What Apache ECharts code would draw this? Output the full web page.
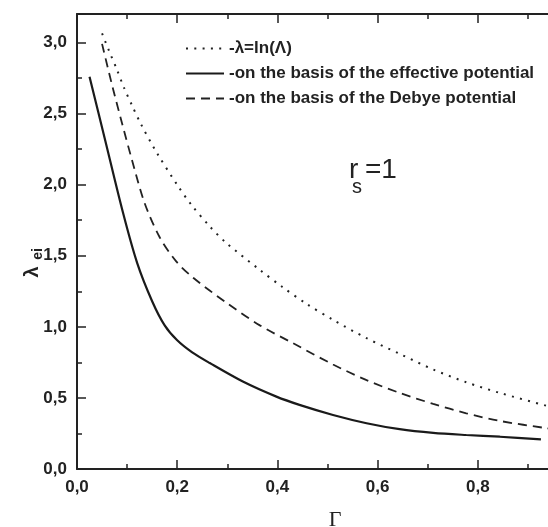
<!DOCTYPE html>
<html>
<head>
<meta charset="utf-8">
<script src="https://cdn.jsdelivr.net/npm/echarts@6/dist/echarts.min.js"></script>
<style>html,body{margin:0;padding:0;background:#fff;}#c{width:548px;height:527px;}</style>
</head>
<body>
<div id="c"></div>
<script>
// ---- data ----
var seriesNames = ['-\u03bb=ln(\u039b)', '-on the basis of the effective potential', '-on the basis of the Debye potential'];

var gammaDotted  = [0.05, 0.064, 0.079, 0.094, 0.11, 0.127, 0.16, 0.202, 0.228, 0.265, 0.298, 0.365, 0.41, 0.458, 0.511, 0.578, 0.644, 0.711, 0.777, 0.844, 0.937, 0.96];
var lambdaDotted = [3.064, 2.94, 2.815, 2.68, 2.556, 2.43, 2.22, 1.988, 1.859, 1.706, 1.59, 1.40, 1.28, 1.162, 1.049, 0.920, 0.81, 0.70, 0.61, 0.535, 0.445, 0.425];

var gammaSolid  = [0.025, 0.055, 0.092, 0.12, 0.15, 0.175, 0.2, 0.23, 0.265, 0.331, 0.398, 0.444, 0.511, 0.578, 0.644, 0.711, 0.777, 0.844, 0.926];
var lambdaSolid = [2.758, 2.33, 1.80, 1.45, 1.18, 1.01, 0.905, 0.82, 0.745, 0.615, 0.509, 0.451, 0.380, 0.322, 0.280, 0.254, 0.239, 0.227, 0.209];

var gammaDashed  = [0.05, 0.07, 0.09, 0.11, 0.135, 0.165, 0.198, 0.232, 0.298, 0.365, 0.431, 0.511, 0.578, 0.644, 0.711, 0.777, 0.844, 0.937, 0.96];
var lambdaDashed = [2.99, 2.70, 2.43, 2.17, 1.87, 1.63, 1.46, 1.345, 1.17, 1.01, 0.885, 0.735, 0.625, 0.535, 0.458, 0.392, 0.338, 0.287, 0.275];

var xMin = 0, xMax = 1.0, xStep = 0.2;
var yMin = 0, yMax = 3.2, yStep = 0.5;

function pairs(xs, ys) { return xs.map(function (x, i) { return [x, ys[i]]; }); }
function fmt(v) { return v.toFixed(1).replace('.', ','); }

var ink = '#222';
var chart = echarts.init(document.getElementById('c'), null, {renderer: 'canvas'});

var axisCommon = {
  axisLine: {show: true, onZero: false, lineStyle: {color: ink, width: 2}},
  axisTick: {show: true, inside: true, length: 9, lineStyle: {color: ink, width: 1.5}},
  minorTick: {show: true, splitNumber: 2, length: 5, lineStyle: {color: ink, width: 1.5}},
  splitLine: {show: false},
  minorSplitLine: {show: false}
};

chart.setOption({
  animation: false,
  backgroundColor: '#fff',
  grid: {left: 77, top: 14, width: 501, height: 455, containLabel: false, outerBoundsMode: 'none'},
  xAxis: [
    Object.assign({}, axisCommon, {
      type: 'value', position: 'bottom', min: xMin, max: xMax, interval: xStep,
      axisLabel: {show: true, margin: 10, color: ink, fontFamily: 'Liberation Sans, Arial, sans-serif', fontWeight: 'bold', fontSize: 17,
        formatter: function (v) { return fmt(v); }}
    }),
    Object.assign({}, axisCommon, {
      type: 'value', position: 'top', min: xMin, max: xMax, interval: xStep,
      axisLabel: {show: false}
    })
  ],
  yAxis: [
    Object.assign({}, axisCommon, {
      type: 'value', position: 'left', min: yMin, max: yMax, interval: yStep,
      axisLabel: {show: true, margin: 10, color: ink, fontFamily: 'Liberation Sans, Arial, sans-serif', fontWeight: 'bold', fontSize: 17,
        formatter: function (v) { return (Math.abs(v / yStep - Math.round(v / yStep)) < 1e-6) ? fmt(v) : ''; }}
    })
  ],
  legend: {
    orient: 'vertical', left: 185, top: 40, padding: 0,
    itemWidth: 38, itemHeight: 17, itemGap: 8,
    itemStyle: {opacity: 0},
    textStyle: {color: ink, fontFamily: 'Liberation Sans, Arial, sans-serif', fontWeight: 'bold', fontSize: 17},
    data: seriesNames
  },
  series: [
    {
      name: seriesNames[0], type: 'line', data: pairs(gammaDotted, lambdaDotted),
      smooth: 0.3, symbol: 'none', clip: true, itemStyle: {color: ink},
      lineStyle: {color: ink, width: 2, type: [2, 6.3], cap: 'butt'}
    },
    {
      name: seriesNames[1], type: 'line', data: pairs(gammaSolid, lambdaSolid),
      smooth: 0.3, symbol: 'none', clip: true, itemStyle: {color: ink},
      lineStyle: {color: '#1a1a1a', width: 2.2, type: 'solid'}
    },
    {
      name: seriesNames[2], type: 'line', data: pairs(gammaDashed, lambdaDashed),
      smooth: 0.3, symbol: 'none', clip: true, itemStyle: {color: ink},
      lineStyle: {color: ink, width: 1.8, type: [9, 6], cap: 'butt'}
    }
  ],
  graphic: [
    {type: 'text', x: 335, y: 520, style: {text: '\u0393', font: '22px "Liberation Serif", "Times New Roman", serif', fill: ink, textAlign: 'center', textVerticalAlign: 'middle', align: 'center', verticalAlign: 'middle'}},
    {type: 'text', x: 32, y: 272, rotation: Math.PI / 2, style: {text: '\u03bb', font: 'bold 20px "Liberation Sans", Arial, sans-serif', fill: ink, textAlign: 'center', textVerticalAlign: 'middle', align: 'center', verticalAlign: 'middle'}},
    {type: 'text', x: 38, y: 254, rotation: Math.PI / 2, style: {text: 'ei', font: 'bold 14px "Liberation Sans", Arial, sans-serif', fill: ink, textAlign: 'center', textVerticalAlign: 'middle', align: 'center', verticalAlign: 'middle'}},
    {type: 'text', x: 349, y: 184, style: {text: 'r', font: '28px "Liberation Sans", Arial, sans-serif', fill: ink, textAlign: 'left', textVerticalAlign: 'bottom', align: 'left', verticalAlign: 'bottom'}},
    {type: 'text', x: 352, y: 197, style: {text: 's', font: '20px "Liberation Sans", Arial, sans-serif', fill: ink, textAlign: 'left', textVerticalAlign: 'bottom', align: 'left', verticalAlign: 'bottom'}},
    {type: 'text', x: 365, y: 184, style: {text: '=1', font: '28px "Liberation Sans", Arial, sans-serif', fill: ink, textAlign: 'left', textVerticalAlign: 'bottom', align: 'left', verticalAlign: 'bottom'}}
  ]
});
</script>
</body>
</html>
